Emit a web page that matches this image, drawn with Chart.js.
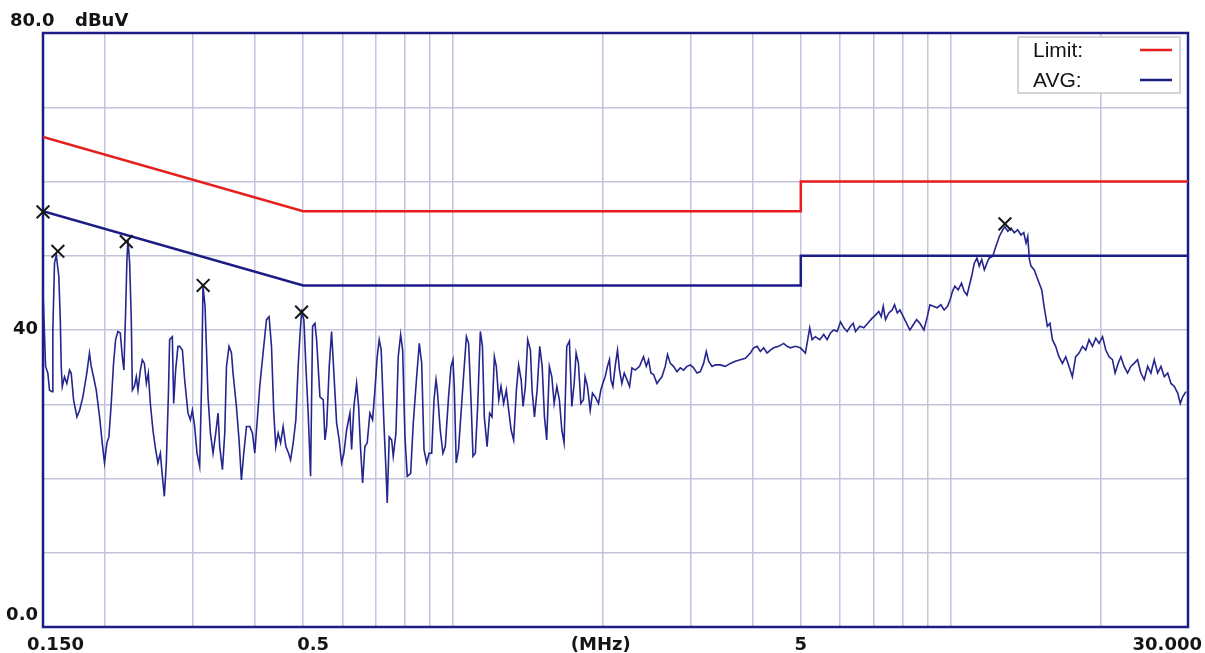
<!DOCTYPE html>
<html>
<head>
<meta charset="utf-8">
<title>Conducted emission scan</title>
<script src="https://cdn.jsdelivr.net/npm/chart.js@4.4.1/dist/chart.umd.min.js"></script>
<style>
  html, body { margin: 0; padding: 0; background: #fff; }
  #wrap { width: 1205px; height: 653px; }
</style>
</head>
<body>
<div id="wrap"><canvas id="scan" width="1205" height="653"></canvas></div>
<script>
// ---- data ----
const xGridValues = [0.2, 0.3, 0.4, 0.5, 0.6, 0.7, 0.8, 0.9, 1, 2, 3, 4, 5, 6, 7, 8, 9, 10, 20];
const xLabelValues = [0.15, 0.5, 2, 5, 30];
const xLabelTexts = ['0.150', '0.5', '(MHz)', '5', '30.000'];
const yLabelValues = [80, 40, 0];
const yLabelTexts = ['80.0', '40', '0.0'];
const yUnit = 'dBuV';

const limitFreq = [0.15, 0.5, 5, 5, 30];
const qpLimit = [66, 56, 56, 60, 60];
const avgLimit = [56, 46, 46, 50, 50];

const peakFreq = [0.15, 0.1607, 0.2205, 0.3147, 0.4963, 12.86];
const peakLevel = [55.9, 50.6, 51.9, 46.0, 42.4, 54.3];

const traceFreq = [
  0.150, 0.1518, 0.1534, 0.1546, 0.1565, 0.1570, 0.1582, 0.1595, 0.1614, 0.1625,
  0.1632, 0.1640, 0.1657, 0.1675, 0.1696, 0.1709, 0.1728, 0.1755, 0.1777, 0.1804,
  0.1837, 0.1860, 0.1875, 0.1895, 0.1919, 0.1949, 0.1973, 0.1994, 0.2016, 0.2035,
  0.2057, 0.2079, 0.2099, 0.2121, 0.2145, 0.2165, 0.2181, 0.2199, 0.2212, 0.2222,
  0.2240, 0.2257, 0.2268, 0.2289, 0.2310, 0.2328, 0.2354, 0.2375, 0.2398, 0.2420,
  0.2442, 0.2465, 0.2495, 0.2526, 0.2553, 0.2582, 0.2606, 0.2630, 0.2654, 0.2679,
  0.2695, 0.2729, 0.2746, 0.2771, 0.2801, 0.2823, 0.2859, 0.2889, 0.2934, 0.2967,
  0.2994, 0.3026, 0.3059, 0.3097, 0.3126, 0.3145, 0.3175, 0.3195, 0.3219, 0.3255,
  0.3295, 0.3336, 0.3372, 0.3398, 0.3441, 0.3478, 0.3506, 0.3548, 0.3588, 0.3614,
  0.3671, 0.3716, 0.3757, 0.3798, 0.3846, 0.3905, 0.3954, 0.3996, 0.4039, 0.4090,
  0.4153, 0.4219, 0.4270, 0.4318, 0.4364, 0.4405, 0.4453, 0.4503, 0.4557, 0.4615,
  0.4673, 0.4716, 0.4774, 0.4833, 0.4885, 0.4924, 0.4963, 0.5016, 0.5063, 0.5117,
  0.5174, 0.5222, 0.5279, 0.5320, 0.5403, 0.5486, 0.5530, 0.5574, 0.5641, 0.5702,
  0.5763, 0.5836, 0.5906, 0.5972, 0.6036, 0.6112, 0.6207, 0.6256, 0.6323, 0.6402,
  0.6462, 0.6522, 0.6583, 0.6652, 0.6724, 0.6808, 0.6894, 0.6968, 0.7042, 0.7108,
  0.7174, 0.7264, 0.7333, 0.7377, 0.7445, 0.7529, 0.7585, 0.7680, 0.7762, 0.7850,
  0.7922, 0.8007, 0.8094, 0.8222, 0.8322, 0.8453, 0.8556, 0.8652, 0.8745, 0.8855,
  0.8950, 0.9063, 0.9160, 0.9246, 0.9301, 0.9428, 0.9547, 0.9649, 0.9798, 0.9908,
  1.000, 1.006, 1.015, 1.026, 1.038, 1.050, 1.064, 1.075, 1.087, 1.097,
  1.109, 1.121, 1.135, 1.146, 1.156, 1.171, 1.185, 1.198, 1.211, 1.222,
  1.236, 1.249, 1.264, 1.280, 1.294, 1.309, 1.324, 1.341, 1.355, 1.371,
  1.383, 1.398, 1.413, 1.431, 1.442, 1.458, 1.476, 1.494, 1.511, 1.527,
  1.543, 1.562, 1.580, 1.597, 1.617, 1.636, 1.655, 1.672, 1.693, 1.714,
  1.733, 1.752, 1.768, 1.787, 1.807, 1.829, 1.843, 1.863, 1.887, 1.907,
  1.931, 1.961, 1.982, 2.000, 2.022, 2.044, 2.063, 2.077, 2.096, 2.118,
  2.141, 2.161, 2.185, 2.209, 2.237, 2.264, 2.289, 2.324, 2.371, 2.415,
  2.446, 2.472, 2.499, 2.530, 2.570, 2.601, 2.630, 2.670, 2.699, 2.733,
  2.775, 2.819, 2.863, 2.907, 2.953, 3.000, 3.045, 3.093, 3.141, 3.189,
  3.229, 3.264, 3.316, 3.367, 3.445, 3.526, 3.609, 3.693, 3.780, 3.869,
  3.960, 4.020, 4.084, 4.147, 4.211, 4.278, 4.344, 4.410, 4.513, 4.619,
  4.692, 4.765, 4.877, 4.990, 5.108, 5.211, 5.269, 5.350, 5.458, 5.560,
  5.649, 5.736, 5.825, 5.917, 6.008, 6.101, 6.198, 6.293, 6.373, 6.441,
  6.570, 6.692, 6.817, 6.958, 7.065, 7.174, 7.254, 7.322, 7.400, 7.514,
  7.634, 7.716, 7.814, 7.908, 8.033, 8.158, 8.283, 8.415, 8.545, 8.676,
  8.839, 8.979, 9.088, 9.232, 9.405, 9.560, 9.708, 9.862, 9.980, 10.09,
  10.20, 10.36, 10.52, 10.65, 10.79, 10.90, 11.02, 11.16, 11.30, 11.42,
  11.55, 11.69, 11.83, 11.96, 12.15, 12.34, 12.53, 12.73, 12.86, 13.03,
  13.23, 13.43, 13.64, 13.85, 14.03, 14.18, 14.29, 14.40, 14.51, 14.73,
  14.97, 15.25, 15.41, 15.65, 15.84, 16.02, 16.26, 16.51, 16.78, 17.04,
  17.30, 17.57, 17.84, 18.12, 18.41, 18.69, 18.98, 19.28, 19.58, 19.88,
  20.20, 20.51, 20.82, 21.15, 21.41, 21.71, 21.99, 22.32, 22.68, 23.03,
  23.38, 23.75, 24.12, 24.50, 24.89, 25.27, 25.66, 26.07, 26.47, 26.88,
  27.31, 27.73, 28.16, 28.60, 28.95, 29.27, 29.72
];
const traceLevel = [
  45.4, 35.1, 34.2, 31.9, 31.7, 40.0, 49.0, 50.1, 47.2, 41.4,
  35.1, 32.4, 33.7, 32.8, 34.6, 34.2, 30.6, 28.3, 29.2, 31.0,
  34.2, 36.9, 35.1, 33.7, 31.9, 28.3, 24.8, 22.1, 24.8, 25.6,
  30.1, 35.5, 38.7, 39.8, 39.6, 36.4, 34.6, 42.7, 49.5, 52.2,
  49.0, 41.4, 31.9, 32.4, 33.7, 31.9, 34.6, 36.0, 35.5, 32.8,
  34.2, 30.1, 26.5, 23.9, 22.1, 23.4, 20.3, 17.6, 22.1, 31.0,
  38.7, 39.1, 30.1, 34.6, 37.8, 37.8, 37.3, 33.3, 28.8, 27.9,
  29.2, 27.0, 23.4, 21.6, 33.3, 45.9, 43.2, 37.8, 31.0, 26.1,
  23.4, 26.1, 28.8, 24.3, 21.2, 26.1, 35.1, 37.8, 36.9, 34.2,
  29.7, 25.2, 19.8, 23.4, 27.0, 27.0, 26.1, 23.4, 27.5, 32.4,
  36.9, 41.4, 41.8, 37.8, 28.8, 24.3, 26.1, 24.8, 27.0, 24.3,
  23.4, 22.5, 24.8, 27.9, 35.1, 39.1, 42.4, 41.4, 35.1, 28.8,
  20.3, 40.5, 40.9, 38.7, 31.0, 30.6, 25.2, 27.0, 35.1, 39.8,
  34.2, 27.5, 25.2, 22.1, 23.4, 26.5, 28.8, 23.9, 29.7, 32.8,
  29.7, 23.9, 19.4, 24.3, 24.8, 28.8, 27.9, 31.9, 36.4, 38.7,
  37.3, 27.5, 21.2, 16.7, 25.6, 25.2, 23.0, 26.1, 36.4, 39.4,
  37.3, 25.6, 20.3, 20.7, 27.5, 33.7, 38.2, 35.5, 23.9, 22.1,
  23.4, 23.4, 30.6, 33.3, 31.9, 26.5, 23.4, 24.3, 31.0, 35.1,
  36.0, 32.4, 22.1, 23.9, 28.8, 33.7, 39.1, 38.2, 30.6, 23.0,
  23.4, 29.7, 39.8, 37.8, 28.3, 24.3, 28.8, 28.3, 36.4, 35.1,
  30.6, 32.4, 30.1, 31.9, 29.2, 26.5, 25.2, 31.9, 35.3, 33.3,
  29.7, 32.4, 38.7, 37.3, 31.9, 28.3, 31.9, 37.8, 35.1, 28.3,
  25.2, 35.1, 33.7, 30.1, 32.4, 30.6, 26.5, 24.8, 37.8, 38.5,
  29.7, 32.8, 36.9, 35.5, 30.1, 30.6, 33.7, 32.4, 29.2, 31.5,
  31.0, 30.1, 31.9, 32.8, 33.7, 35.1, 36.0, 33.3, 32.4, 35.1,
  37.3, 34.6, 32.8, 34.2, 33.3, 32.4, 34.9, 34.6, 35.1, 36.4,
  35.1, 36.0, 34.2, 34.0, 32.8, 33.3, 33.7, 35.1, 36.7, 35.5,
  35.1, 34.4, 34.9, 34.6, 35.1, 35.3, 34.9, 34.2, 34.4, 35.5,
  37.1, 35.8, 35.1, 35.3, 35.3, 35.1, 35.5, 35.8, 36.0, 36.2,
  36.9, 37.6, 37.8, 37.1, 37.6, 36.9, 37.3, 37.6, 37.8, 38.2,
  37.8, 37.6, 37.8, 37.6, 36.9, 40.3, 38.7, 39.1, 38.7, 39.4,
  38.7, 39.6, 40.0, 39.8, 41.1, 40.3, 39.8, 40.5, 40.9, 39.8,
  40.5, 40.3, 40.9, 41.6, 42.0, 42.5, 41.8, 43.2, 41.4, 42.3,
  42.7, 43.4, 42.3, 42.7, 41.8, 40.9, 40.0, 40.7, 41.4, 40.9,
  40.0, 41.8, 43.4, 43.2, 43.0, 43.4, 42.7, 43.2, 44.1, 45.2,
  45.9, 45.4, 46.3, 45.2, 44.7, 45.9, 47.2, 49.0, 49.7, 48.6,
  49.5, 48.1, 49.0, 49.7, 49.9, 51.3, 52.6, 53.5, 53.9, 53.3,
  53.7, 53.1, 53.5, 52.8, 53.1, 51.7, 52.6, 49.5, 48.6, 48.1,
  46.8, 45.4, 43.2, 40.5, 40.9, 38.7, 37.8, 36.4, 35.5, 36.4,
  35.1, 33.7, 36.4, 36.9, 37.8, 37.3, 38.7, 37.8, 38.9, 38.2,
  39.1, 37.3, 36.4, 36.0, 34.2, 35.5, 36.4, 35.1, 34.2, 35.1,
  35.5, 36.0, 34.2, 33.3, 35.1, 34.2, 36.0, 34.2, 35.1, 33.7,
  34.2, 32.8, 32.4, 31.5, 30.1, 31.0, 31.7
];

// ---- colours ----
const NAVY = '#1c1c86';
const TRACE = '#25258e';
const RED = '#e61e1e';
const GRID = '#c3c3dc';

const pts = (xs, ys) => xs.map((x, i) => ({ x: x, y: ys[i] }));

// frame, axis texts and legend box are drawn here from the chart's own scales
const decor = {
  id: 'decor',
  beforeDatasetsDraw(chart) {
    const { ctx, chartArea: a } = chart;
    ctx.save();
    ctx.strokeStyle = NAVY;
    ctx.lineWidth = 2.5;
    ctx.strokeRect(a.left, a.top, a.right - a.left, a.bottom - a.top);
    ctx.restore();
  },
  afterDraw(chart) {
    const { ctx, chartArea: a, scales } = chart;
    const x = scales.x, y = scales.y;
    ctx.save();
    ctx.fillStyle = '#141414';
    ctx.font = 'bold 18px "DejaVu Sans"';

    // y labels: top one sits above the frame with the unit, bottom one above the baseline
    yLabelValues.forEach((v, i) => {
      const py = y.getPixelForValue(v);
      if (v === y.max) {
        ctx.textAlign = 'left';
        ctx.textBaseline = 'alphabetic';
        ctx.fillText(yLabelTexts[i], 10, py - 7);
        ctx.fillText(yUnit, 75, py - 7);
      } else if (v === y.min) {
        ctx.textAlign = 'right';
        ctx.textBaseline = 'alphabetic';
        ctx.fillText(yLabelTexts[i], a.left - 5, py - 7);
      } else {
        ctx.textAlign = 'right';
        ctx.textBaseline = 'middle';
        ctx.fillText(yLabelTexts[i], a.left - 5, py - 1);
      }
    });

    // x labels
    ctx.textBaseline = 'alphabetic';
    xLabelValues.forEach((v, i) => {
      const px = x.getPixelForValue(v);
      if (i === 0) {
        ctx.textAlign = 'left';
        ctx.fillText(xLabelTexts[i], px - 16, a.bottom + 23);
      } else if (i === xLabelValues.length - 1) {
        ctx.textAlign = 'right';
        ctx.fillText(xLabelTexts[i], px + 14, a.bottom + 23);
      } else {
        ctx.textAlign = 'center';
        const nudge = v < 1 ? 10 : (v === 2 ? -2 : 0);
        ctx.fillText(xLabelTexts[i], px + nudge, a.bottom + 23);
      }
    });

    // legend box, top right
    const bx = a.right - 170, by = a.top + 4, bw = 162, bh = 56;
    ctx.fillStyle = '#fff';
    ctx.fillRect(bx, by, bw, bh);
    ctx.strokeStyle = '#c8c8c8';
    ctx.lineWidth = 1.5;
    ctx.strokeRect(bx, by, bw, bh);
    ctx.font = '21px "Liberation Sans", Arial, sans-serif';
    ctx.textAlign = 'left';
    ctx.textBaseline = 'middle';
    ['Limit', 'AVG'].forEach((name, i) => {
      const ds = chart.data.datasets.find(d => d.label === name);
      const ry = by + 13 + i * 30;
      ctx.fillStyle = '#141414';
      ctx.fillText(name + ':', bx + 15, ry + 1);
      ctx.strokeStyle = ds.borderColor;
      ctx.lineWidth = 2.5;
      ctx.beginPath();
      ctx.moveTo(bx + 122, ry);
      ctx.lineTo(bx + 154, ry);
      ctx.stroke();
    });
    ctx.restore();
  }
};

new Chart(document.getElementById('scan'), {
  type: 'line',
  data: {
    datasets: [
      {
        label: 'Peaks',
        data: pts(peakFreq, peakLevel),
        showLine: false,
        pointStyle: 'crossRot',
        pointRadius: 9,
        borderWidth: 2,
        borderColor: '#161616',
        clip: false
      },
      {
        label: 'Limit',
        data: pts(limitFreq, qpLimit),
        borderColor: RED,
        borderWidth: 2.5,
        pointRadius: 0
      },
      {
        label: 'AVG',
        data: pts(limitFreq, avgLimit),
        borderColor: NAVY,
        borderWidth: 2.5,
        pointRadius: 0
      },
      {
        label: 'Trace',
        data: pts(traceFreq, traceLevel),
        borderColor: TRACE,
        borderWidth: 1.6,
        pointRadius: 0
      }
    ]
  },
  options: {
    responsive: false,
    devicePixelRatio: 1,
    animation: false,
    layout: { padding: { left: 43, top: 33, right: 17, bottom: 26 } },
    plugins: {
      legend: { display: false },
      tooltip: { enabled: false }
    },
    elements: { line: { tension: 0 } },
    scales: {
      x: {
        type: 'logarithmic',
        min: 0.15,
        max: 30,
        afterBuildTicks: (scale) => {
          scale.ticks = xGridValues.map(v => ({ value: v }));
        },
        ticks: { display: false },
        grid: { color: GRID, lineWidth: 1.5, drawTicks: false },
        border: { display: false }
      },
      y: {
        type: 'linear',
        min: 0,
        max: 80,
        ticks: { display: false, stepSize: 10 },
        grid: { color: GRID, lineWidth: 1.5, drawTicks: false },
        border: { display: false }
      }
    }
  },
  plugins: [decor]
});
</script>
</body>
</html>
